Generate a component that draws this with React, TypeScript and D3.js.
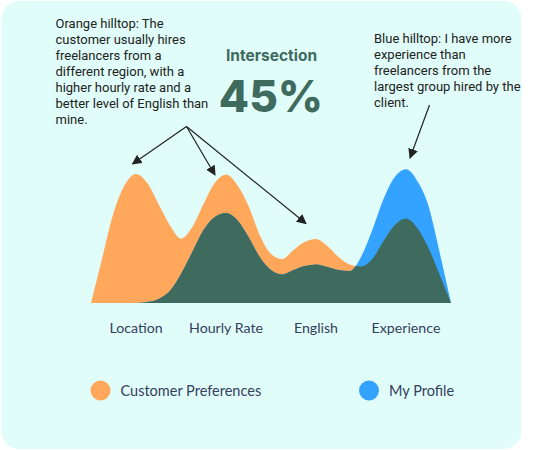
import React from "react";
import * as d3 from "d3";

const categories = ["Location", "Hourly Rate", "English", "Experience"];
const grid = [
  -0.5, -0.375, -0.25, -0.125, 0, 0.125, 0.25, 0.375, 0.5, 0.625, 0.75, 0.875,
  1, 1.125, 1.25, 1.375, 1.5, 1.625, 1.75, 1.875, 2, 2.125, 2.25, 2.375, 2.5,
  2.625, 2.75, 2.875, 3, 3.125, 3.25, 3.375, 3.5,
];
const customerPreferences = [
  0, 45, 90, 118, 129, 120, 99, 78, 64.5, 76, 99, 120,
  128.5, 118, 97, 68, 49, 44, 53, 61, 64, 57, 46, 38.5, 36.5,
  44, 62, 78, 84.5, 75, 55, 28, 0,
];
const myProfile = [
  0, 0, 0, 0, 0, 1, 4, 12, 29, 51, 73, 86,
  90, 83, 66, 46, 33, 28.5, 33, 37, 38.5, 36, 33, 32, 46,
  73, 104, 126, 133.7, 122, 97, 50, 0,
];
const legendItems = ["Customer Preferences", "My Profile"];
const intersectionLabel = "Intersection";
const intersectionValue = "45%";
const orangeNote = [
  "Orange hilltop: The",
  "customer usually hires",
  "freelancers from a",
  "different region, with a",
  "higher hourly rate and a",
  "better level of English than",
  "mine.",
];
const blueNote = [
  "Blue hilltop: I have more",
  "experience than",
  "freelancers from the",
  "largest group hired by the",
  "client.",
];

const ORANGE = "#FFA85C";
const BLUE = "#33A3FF";
const DARK = "#3F6A5E";
const TEXT = "#222222";
const AXIS = "#34405E";

export default function App() {
  const x = d3.scaleLinear().domain([-0.5, 3.5]).range([91, 451]);
  const y = d3.scaleLinear().domain([0, 140]).range([303, 163]);
  const area = (vals: number[]) =>
    d3
      .area<number>()
      .x((_, i) => x(grid[i]))
      .y0(y(0))
      .y1((d) => y(d))
      .curve(d3.curveMonotoneX)(vals) as string;
  const orangePath = area(customerPreferences);
  const bluePath = area(myProfile);

  const annFont = "Roboto, 'Noto Sans', sans-serif";
  const labelFont = "Lato, 'Noto Sans', sans-serif";

  return (
    <svg
      width={543}
      height={450}
      style={{ position: "absolute", left: 0, top: 0 }}
    >
      <defs>
        <clipPath id="orangeClip">
          <path d={orangePath} />
        </clipPath>
        <marker
          id="arrow"
          viewBox="0 0 10 10"
          refX="9"
          refY="5"
          markerWidth="10"
          markerHeight="10"
          markerUnits="userSpaceOnUse"
          orient="auto"
        >
          <path d="M0,0 L10,5 L0,10 Z" fill={TEXT} />
        </marker>
      </defs>
      <rect x={1.5} y={1} width={520} height={448} rx={18} fill="#E0FDF9" />

      <path d={orangePath} fill={ORANGE} />
      <path d={bluePath} fill={BLUE} />
      <path d={bluePath} fill={DARK} clipPath="url(#orangeClip)" />

      {categories.map((c, i) => (
        <text
          key={c}
          x={x(i)}
          y={333}
          textAnchor="middle"
          fontFamily={labelFont}
          fontSize={14.2}
          fill={AXIS}
        >
          {c}
        </text>
      ))}

      {legendItems.map((l, i) => (
        <g key={l} transform={`translate(${i === 0 ? 100.5 : 369},390.5)`}>
          <circle r={10} fill={i === 0 ? ORANGE : BLUE} />
          <text
            x={20}
            y={5.5}
            fontFamily={labelFont}
            fontSize={14.5}
            fill={AXIS}
          >
            {l}
          </text>
        </g>
      ))}

      <text
        x={271.5}
        y={61}
        textAnchor="middle"
        fontFamily="Inter, sans-serif"
        fontWeight={700}
        fontSize={15.5}
        fill={DARK}
      >
        {intersectionLabel}
      </text>
      <text
        x={271}
        y={112}
        textAnchor="middle"
        fontFamily="Inter, sans-serif"
        fontWeight={800}
        fontSize={44}
        fill={DARK}
      >
        {intersectionValue}
      </text>

      {orangeNote.map((t, i) => (
        <text
          key={i}
          x={55.5}
          y={28 + i * 16}
          fontFamily={annFont}
          fontSize={13}
          fill={TEXT}
        >
          {t}
        </text>
      ))}
      {blueNote.map((t, i) => (
        <text
          key={i}
          x={374}
          y={43.3 + i * 16}
          fontFamily={annFont}
          fontSize={13}
          fill={TEXT}
        >
          {t}
        </text>
      ))}

      <g stroke={TEXT} strokeWidth={1.2} fill="none">
        <line x1={186.5} y1={126.5} x2={132.5} y2={164} markerEnd="url(#arrow)" />
        <line x1={186.5} y1={126.5} x2={215} y2={175} markerEnd="url(#arrow)" />
        <line x1={186.5} y1={126.5} x2={306} y2={223.5} markerEnd="url(#arrow)" />
        <line x1={429.5} y1={105} x2={410} y2={158} markerEnd="url(#arrow)" />
      </g>
    </svg>
  );
}
